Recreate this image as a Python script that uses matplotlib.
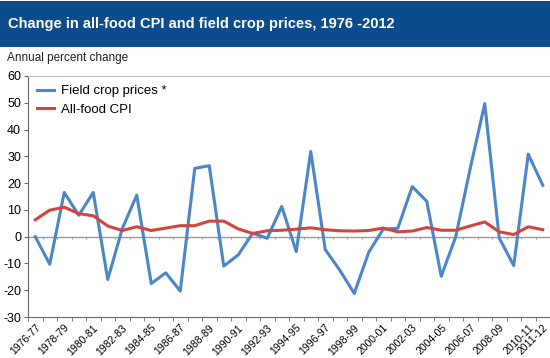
import numpy as np
import matplotlib
matplotlib.use("Agg")
import matplotlib.pyplot as plt
from matplotlib.patches import Rectangle

plt.rcParams['font.family'] = ['Liberation Sans', 'DejaVu Sans']

# crop years 1976-77 .. 2011-12
years = ["%d-%02d" % (y, (y + 1) % 100) for y in range(1976, 2012)]

field_crop = [0.0, -10.3, 16.5, 8.0, 16.5, -16.0, 3.0, 15.5, -17.5, -13.5,
              -20.3, 25.5, 26.5, -11.0, -6.8, 1.3, -0.6, 11.3, -5.6, 31.8,
              -4.8, -12.5, -21.2, -5.8, 2.8, 3.1, 18.7, 13.2, -14.8, 0.0,
              25.5, 49.7, -0.5, -10.8, 30.8, 19.2]

all_food_cpi = [6.3, 9.9, 11.0, 8.6, 7.8, 4.0, 2.3, 3.7, 2.3, 3.2,
                4.1, 4.1, 5.8, 5.8, 2.9, 1.2, 2.2, 2.4, 2.8, 3.3,
                2.6, 2.2, 2.1, 2.3, 3.2, 1.8, 2.1, 3.4, 2.4, 2.4,
                4.0, 5.5, 1.8, 0.8, 3.7, 2.6]

yticks = [-30, -20, -10, 0, 10, 20, 30, 40, 50, 60]

fig = plt.figure(figsize=(5.5, 3.58), dpi=100)

# title banner
fig.patches.append(Rectangle((0, 1 - 47 / 358.), 1, 46 / 358., transform=fig.transFigure,
                             facecolor='#0d4c8c', edgecolor='none', zorder=0))
fig.text(8 / 550., 1 - 24 / 358., "Change in all-food CPI and field crop prices, 1976 -2012",
         color='white', fontsize=10.5, fontweight='bold', va='center', ha='left')
fig.text(7 / 550., 1 - 58 / 358., "Annual percent change", color='#222222',
         fontsize=8.5, va='center', ha='left')

ax = fig.add_axes([28 / 550., 1 - 317 / 358., 522 / 550., 241 / 358.])
x = np.arange(len(years))

ax.plot(x, field_crop, color='#4a86c8', lw=2.2, label='Field crop prices *', zorder=3)
ax.plot(x, all_food_cpi, color='#d0453e', lw=2.2, label='All-food CPI', zorder=4)

ax.axhline(0, color='#9a9a9a', lw=1.0, zorder=1)
bounds = np.arange(len(years) + 1) - 0.5
ax.vlines(bounds, -0.7, 0, color='#9a9a9a', lw=0.8, zorder=1)

ax.set_xlim(-0.5, len(years) - 0.5)
ax.set_ylim(-30, 60)
ax.set_yticks(yticks)
ax.set_yticklabels([str(v) for v in yticks], fontsize=9)

label_pos = list(range(0, 35, 2)) + [35]
ax.set_xticks(label_pos)
ax.set_xticklabels([years[i] for i in label_pos], rotation=45, ha='right',
                   rotation_mode='anchor', fontsize=7.5)
ax.tick_params(axis='x', length=0, pad=4)
ax.set_xticks(bounds, minor=True)
ax.tick_params(axis='x', which='minor', length=3, color='#666666', direction='out')
ax.tick_params(axis='y', length=3, color='#666666', pad=2)

for s in ['right']:
    ax.spines[s].set_visible(False)
ax.spines['top'].set_color('#bbbbbb')
ax.spines['top'].set_linewidth(0.8)
ax.spines['left'].set_color('#666666')
ax.spines['bottom'].set_color('#666666')

leg = ax.legend(loc='upper left', bbox_to_anchor=(0.0, 1.0), frameon=False,
                fontsize=9.5, handlelength=1.3, handletextpad=0.5,
                labelspacing=0.45, borderaxespad=0.3)

fig.savefig('out.png', dpi=100)
